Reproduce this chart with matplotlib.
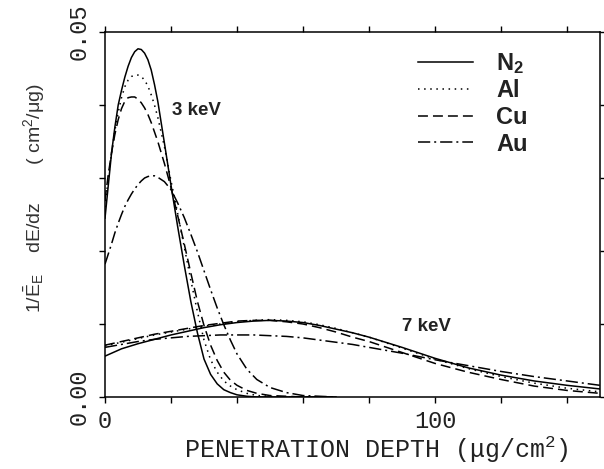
import matplotlib
matplotlib.use("Agg")
import matplotlib.pyplot as plt

plt.rcParams["font.family"] = ["Liberation Sans", "DejaVu Sans"]
plt.rcParams["mathtext.fontset"] = "custom"
plt.rcParams["mathtext.rm"] = "Liberation Sans"
plt.rcParams["mathtext.it"] = "Liberation Sans:italic"
plt.rcParams["mathtext.bf"] = "Liberation Sans:bold"
plt.rcParams["mathtext.tt"] = "Liberation Mono"

# ---- 3 keV deposition profiles ----
depth_3kev = [0, 1, 2, 3, 4, 5, 6, 7, 8, 9, 10, 11, 12, 13, 14, 15, 16, 18, 20,
              22, 24, 26, 28, 30, 32, 34, 36, 38, 40, 43, 46, 50, 55, 60, 65, 70]
n2_3kev = [0.0245, 0.0290, 0.0335, 0.0370, 0.0400, 0.0420, 0.0438, 0.0453, 0.0465,
           0.0473, 0.0477, 0.0476, 0.0471, 0.0462, 0.0448, 0.0428, 0.0405, 0.0348,
           0.0290, 0.0234, 0.0181, 0.0131, 0.0088, 0.0052, 0.0031, 0.0018, 0.0010,
           0.0006, 0.0003, 0.0001, 0.0, 0.0, 0.0, 0.0, 0.0, 0.0]
al_3kev = [0.0260, 0.0300, 0.0335, 0.0365, 0.0390, 0.0410, 0.0425, 0.0434, 0.0439,
           0.0441, 0.0441, 0.0439, 0.0434, 0.0426, 0.0414, 0.0400, 0.0383, 0.0343,
           0.0296, 0.0252, 0.0206, 0.0160, 0.0117, 0.0078, 0.0051, 0.0034, 0.0022,
           0.0015, 0.0010, 0.0005, 0.0002, 0.0001, 0.0, 0.0, 0.0, 0.0]
cu_3kev = [0.0270, 0.0305, 0.0335, 0.0360, 0.0380, 0.0395, 0.0405, 0.0410, 0.0411,
           0.0411, 0.0408, 0.0403, 0.0396, 0.0387, 0.0376, 0.0363, 0.0350, 0.0320,
           0.0287, 0.0249, 0.0210, 0.0170, 0.0131, 0.0098, 0.0071, 0.0050, 0.0034,
           0.0023, 0.0016, 0.0009, 0.0005, 0.0002, 0.0001, 0.0, 0.0, 0.0]
au_3kev = [0.0182, 0.0196, 0.0210, 0.0225, 0.0238, 0.0250, 0.0261, 0.0270, 0.0278,
           0.0285, 0.0291, 0.0296, 0.0300, 0.0302, 0.0303, 0.0303, 0.0301, 0.0295,
           0.0284, 0.0266, 0.0246, 0.0223, 0.0199, 0.0173, 0.0147, 0.0122, 0.0099,
           0.0078, 0.0059, 0.0038, 0.0024, 0.0013, 0.0006, 0.0002, 0.0001, 0.0]

# ---- 7 keV deposition profiles ----
depth_7kev = [0, 5, 10, 15, 20, 25, 30, 35, 40, 45, 50, 55, 60, 65, 70, 75, 80,
              90, 100, 110, 120, 130, 140, 150]
n2_7kev = [0.0056, 0.0066, 0.0073, 0.0079, 0.0085, 0.0090, 0.0095, 0.0099, 0.0102,
           0.0104, 0.0105, 0.0104, 0.0102, 0.0098, 0.0093, 0.0088, 0.0082, 0.0068,
           0.0053, 0.0040, 0.0030, 0.0022, 0.0016, 0.0011]
al_7kev = [0.0070, 0.0075, 0.0080, 0.0085, 0.0089, 0.0093, 0.0097, 0.0100, 0.0103,
           0.0105, 0.0106, 0.0105, 0.0103, 0.0099, 0.0094, 0.0088, 0.0082, 0.0067,
           0.0052, 0.0039, 0.0028, 0.0019, 0.0012, 0.0007]
cu_7kev = [0.0071, 0.0076, 0.0081, 0.0086, 0.0090, 0.0094, 0.0098, 0.0101, 0.0104,
           0.0105, 0.0105, 0.0103, 0.0100, 0.0095, 0.0089, 0.0082, 0.0076, 0.0061,
           0.0046, 0.0034, 0.0024, 0.0015, 0.0009, 0.0005]
au_7kev = [0.0068, 0.0072, 0.0076, 0.0079, 0.0081, 0.0083, 0.0084, 0.0085, 0.0085,
           0.0085, 0.0084, 0.0083, 0.0081, 0.0078, 0.0075, 0.0072, 0.0068, 0.0060,
           0.0051, 0.0043, 0.0035, 0.0028, 0.0022, 0.0016]

materials = ["N$_\\mathbf{2}$", "Al", "Cu", "Au"]
x_ticks = [0, 20, 40, 60, 80, 100, 120, 140]
x_ticklabels = ["0", "", "", "", "", "100", "", ""]
y_ticks = [0.0, 0.01, 0.02, 0.03, 0.04, 0.05]
y_ticklabels = ["0.00", "", "", "", "", "0.05"]

line_styles = ["-", (0, (1, 3)), (0, (6.5, 3.3)), (0, (8, 2.6, 1.3, 2.6))]
lw = 1.1

fig = plt.figure(figsize=(6.04, 4.69), dpi=100)
ax = fig.add_axes([105 / 604, 1 - 397 / 469, 495 / 604, 365 / 469])

profiles_3 = [n2_3kev, al_3kev, cu_3kev, au_3kev]
profiles_7 = [n2_7kev, al_7kev, cu_7kev, au_7kev]
for name, ls, p3, p7 in zip(materials, line_styles, profiles_3, profiles_7):
    ax.plot(depth_3kev, p3, color="black", lw=lw, linestyle=ls, label=name)
    ax.plot(depth_7kev, p7, color="black", lw=lw, linestyle=ls)

ax.set_xlim(0, 150)
ax.set_ylim(0, 0.05)

mono = "Liberation Mono"
ax.set_xticks(x_ticks)
ax.set_xticklabels(x_ticklabels, fontfamily=mono, fontsize=17, color="#222222")
ax.set_yticks(y_ticks)
ax.set_yticklabels(y_ticklabels, fontfamily=mono, fontsize=17, color="#222222",
                   rotation=90, va="center")
ax.tick_params(axis="both", direction="out", length=4, width=1.0,
               top=True, right=True, color="black")
ax.tick_params(axis="x", pad=5)
ax.tick_params(axis="y", pad=6)
for sp in ax.spines.values():
    sp.set_linewidth(1.1)

ax.set_xlabel("PENETRATION DEPTH (\u03bcg/cm$^{\\mathtt{2}}$)",
              fontfamily=mono, fontsize=18, color="#222222")
ax.xaxis.set_label_coords(0.548, -0.145)
ax.xaxis.label.set_verticalalignment("center")

ax.set_ylabel("1/$\\mathrm{\\bar{E}_E}$    dE/dz       ( cm$^{\\mathrm{2}}$/\u03bcg)",
              fontsize=14, color="#333333")
ax.yaxis.set_label_coords(-0.143, 0.545)
ax.yaxis.label.set_verticalalignment("center")

ax.text(20.3, 0.0393, "3 keV", fontsize=13.5, fontweight="bold",
        ha="left", va="center", color="#222222")
ax.text(90, 0.0096, "7 keV", fontsize=13.5, fontweight="bold",
        ha="left", va="center", color="#222222")

leg = ax.legend(loc="upper left", bbox_to_anchor=(0.632, 0.948),
                frameon=False, fontsize=17, handlelength=2.33,
                handletextpad=1.0, labelspacing=0.15, borderpad=0,
                borderaxespad=0)
for t in leg.get_texts():
    t.set_fontweight("bold")
    t.set_color("#222222")

fig.savefig("out.png", dpi=100)
